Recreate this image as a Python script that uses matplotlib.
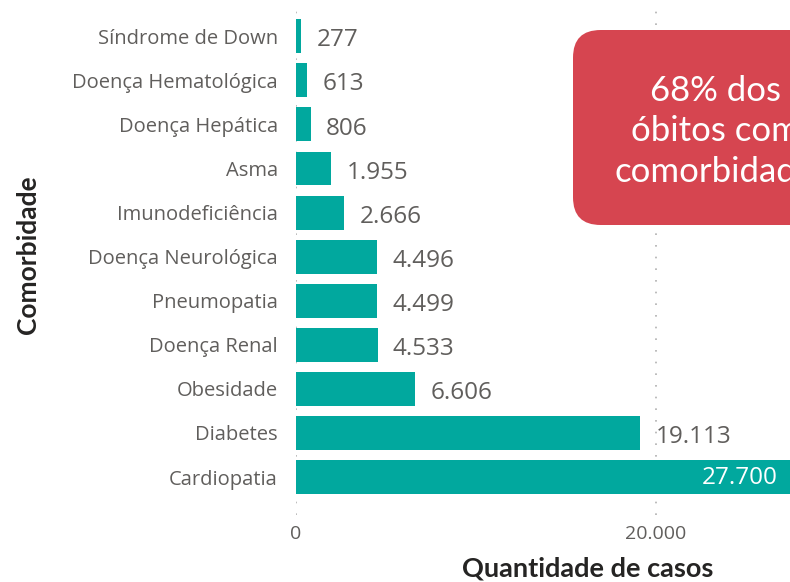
import matplotlib
matplotlib.use("Agg")
from matplotlib import pyplot as plt
from matplotlib.patches import FancyBboxPatch

categories = ["Cardiopatia", "Diabetes", "Obesidade", "Doença Renal", "Pneumopatia",
              "Doença Neurológica", "Imunodeficiência", "Asma", "Doença Hepática",
              "Doença Hematológica", "Síndrome de Down"]
values = [27700, 19113, 6606, 4533, 4499, 4496, 2666, 1955, 806, 613, 277]
value_labels = ["27.700", "19.113", "6.606", "4.533", "4.499", "4.496", "2.666",
                "1.955", "806", "613", "277"]
x_ticks = [0, 20000]
x_tick_labels = ["0", "20.000"]

bar_color = "#01A89E"
text_gray = "#605E5C"

fig = plt.figure(figsize=(7.9, 5.82), dpi=100)
ax = fig.add_axes([296 / 790, 1 - 515 / 582, 1 - 296 / 790, (515 - 8) / 582])

ys = list(range(len(categories)))
ax.barh(ys, values, height=0.77, color=bar_color, zorder=2)

xmax = (790 - 296) / 18 * 1000
ax.set_xlim(0, xmax)
ax.set_ylim(-0.86, 10.64)

for y, v, lab in zip(ys, values, value_labels):
    if v > xmax:
        ax.annotate(lab, (xmax, y), xytext=(-9, -1), textcoords="offset points",
                    ha="right", va="center", color="white", fontsize=17.5,
                    family="Open Sans", zorder=3)
    else:
        ax.annotate(lab, (v, y), xytext=(11, -3), textcoords="offset points",
                    ha="left", va="center", color=text_gray, fontsize=17.5,
                    family="Open Sans", zorder=3)

ax.set_yticks(ys)
ax.set_yticklabels(categories, fontsize=14.5, color=text_gray, family="Open Sans")
ax.set_xticks(x_ticks)
ax.set_xticklabels(x_tick_labels, fontsize=14, color=text_gray, family="Open Sans")
ax.tick_params(axis="both", length=0)
ax.tick_params(axis="y", pad=13)
ax.tick_params(axis="x", pad=7)

ax.grid(axis="x", linestyle=(0, (1, 6)), color="#B0B0B0", linewidth=1.2, zorder=0)
ax.grid(axis="y", visible=False)
for s in ax.spines.values():
    s.set_visible(False)

fig.text(28 / 790, 1 - 255 / 582, "Comorbidade", rotation=90, ha="center", va="center",
         fontsize=19, fontweight="bold", color="#252423", family="Lato")
fig.text(588 / 790, 1 - 568 / 582, "Quantidade de casos", ha="center", va="center",
         fontsize=19.5, fontweight="bold", color="#252423", family="Lato")

# red callout box, partially outside the figure
box = FancyBboxPatch((573 / 790, 1 - 225 / 582), 300 / 790, 195 / 582,
                     boxstyle="round,pad=0,rounding_size=0.035",
                     transform=fig.transFigure, facecolor="#D64550",
                     edgecolor="none", mutation_aspect=790 / 582, zorder=5)
fig.patches.append(box)
for txt, ypix in [("68% dos", 91), ("óbitos com", 131), ("comorbidade", 172)]:
    fig.text(715 / 790, 1 - ypix / 582, txt, ha="center", va="center", color="white",
             fontsize=25, family="Lato", zorder=6)

fig.savefig("out.png", dpi=100)
